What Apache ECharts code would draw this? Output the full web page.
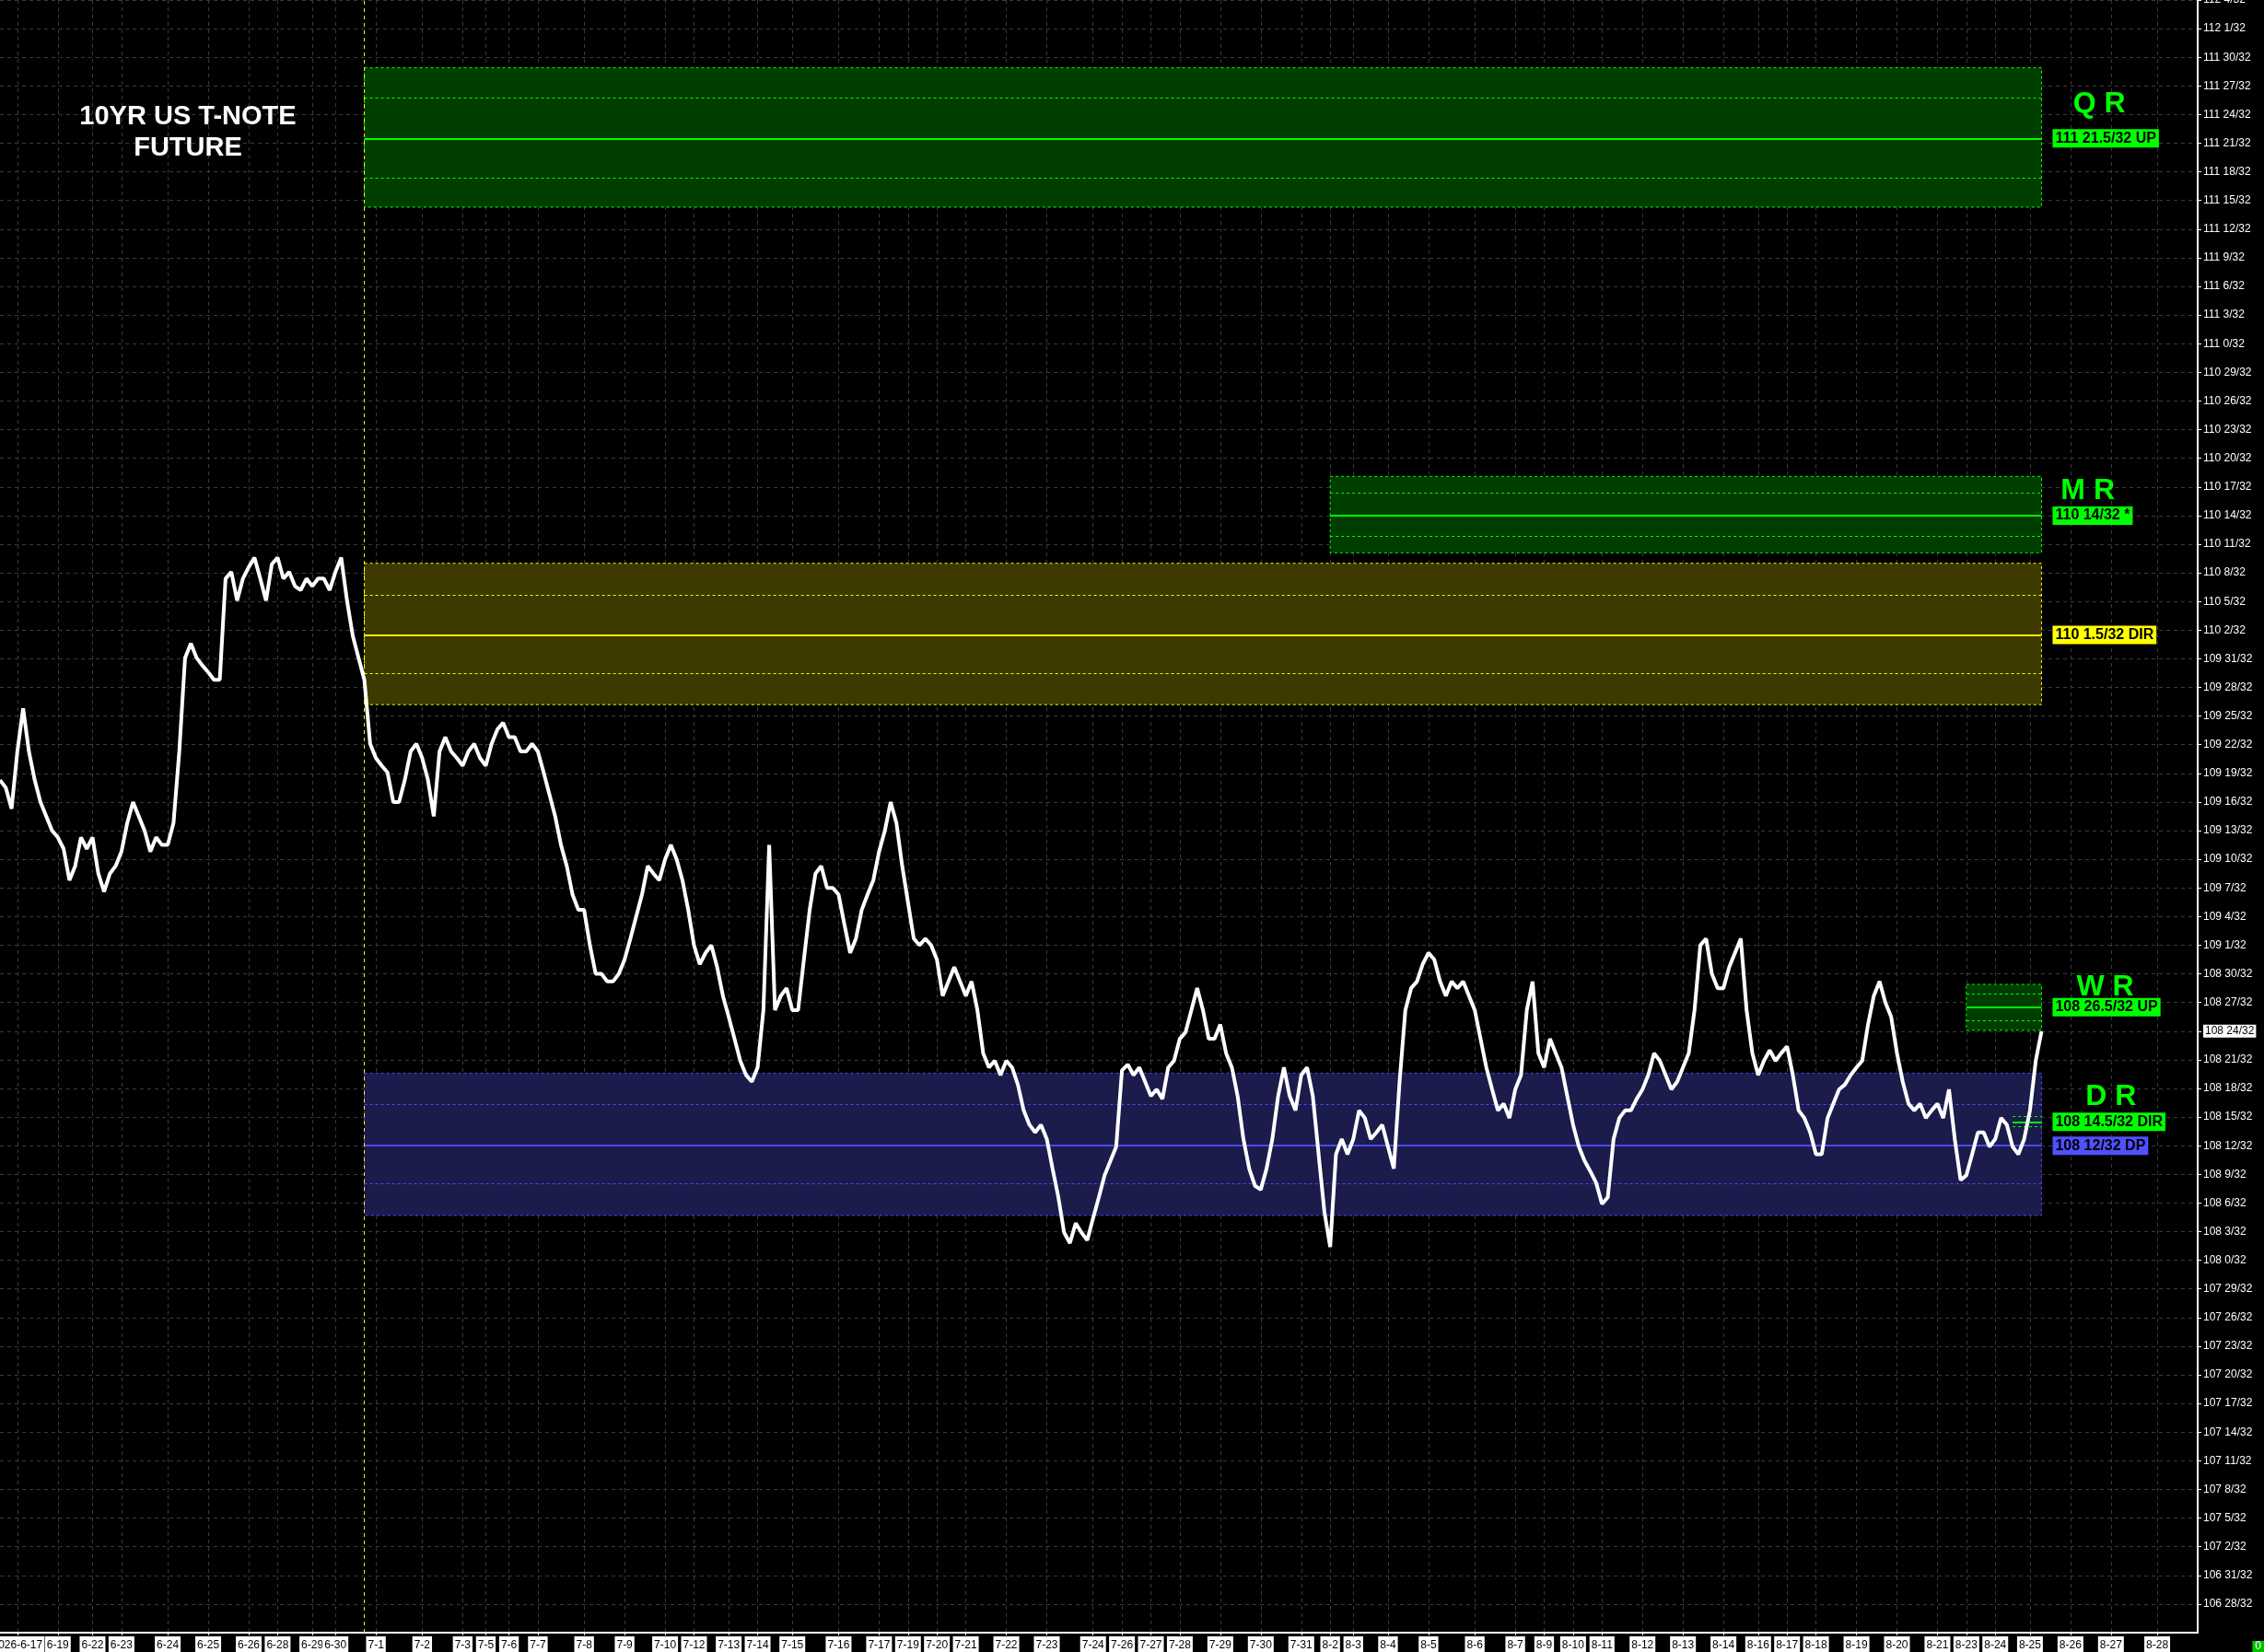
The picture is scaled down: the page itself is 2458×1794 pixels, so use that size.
<!DOCTYPE html>
<html><head><meta charset="utf-8">
<script src="https://cdn.jsdelivr.net/npm/echarts/dist/echarts.min.js"></script>
<style>html,body{margin:0;padding:0;background:#000;}#c{width:2458px;height:1794px;}</style>
</head><body><div id="c"></div>
<script>
// ---------------- DATA ----------------
// trading sessions (label shown at first slot of each session) and their length in slots
const dayLabels = ['', '2026-6-17', '6-19', '6-22', '6-23', '6-24', '6-25', '6-26', '6-28', '6-29', '6-30',
  '7-1', '7-2', '7-3', '7-5', '7-6', '7-7', '7-8', '7-9', '7-10', '7-12', '7-13', '7-14', '7-15', '7-16', '7-17',
  '7-19', '7-20', '7-21', '7-22', '7-23', '7-24', '7-26', '7-27', '7-28', '7-29', '7-30', '7-31',
  '8-2', '8-3', '8-4', '8-5', '8-6', '8-7', '8-9', '8-10', '8-11', '8-12', '8-13', '8-14', '8-16', '8-17',
  '8-18', '8-19', '8-20', '8-21', '8-23', '8-24', '8-25', '8-26', '8-27', '8-28'];
const dayLengths = [3, 7, 6, 5, 8, 7, 7, 5, 6, 4, 7,
  8, 7, 4, 4, 5, 8, 7, 7, 5, 6, 5, 6, 8, 7, 5, 5, 5, 7, 7, 8, 5, 5, 5, 7, 7, 7, 5,
  4, 6, 7, 8, 7, 5, 5, 5, 7, 7, 7, 6, 5, 5, 7, 7, 7, 5, 5, 6, 7, 7, 8, 8];

// price in 32nds of a point (e.g. 3480 = 108 24/32), one value per slot
const price32 = [
3506.3,3505.5,3503.3,3509.3,3513.8,3509.3,3506.3,3504.0,3502.5,3501.0,
3500.3,3499.1,3495.8,3497.3,3500.3,3499.1,3500.3,3496.5,3494.6,3496.5,
3497.3,3498.8,3501.8,3504.0,3502.5,3501.0,3498.8,3500.3,3499.5,3499.5,
3501.8,3509.3,3519.1,3520.6,3519.1,3518.3,3517.6,3516.8,3516.8,3527.4,
3528.1,3525.1,3527.4,3528.6,3529.6,3527.4,3525.1,3528.9,3529.6,3527.4,
3528.1,3526.6,3526.2,3527.4,3526.6,3527.4,3527.4,3526.2,3528.1,3529.6,
3525.1,3521.4,3519.1,3516.8,3510.1,3508.6,3507.8,3507.1,3504.0,3504.0,
3506.3,3509.3,3510.1,3508.6,3506.3,3502.5,3509.3,3510.8,3509.3,3508.6,
3507.8,3509.3,3510.1,3508.6,3507.8,3510.1,3511.6,3512.3,3510.8,3510.8,
3509.3,3509.3,3510.1,3509.3,3507.1,3504.8,3502.5,3499.5,3497.3,3494.3,
3492.7,3492.7,3489.0,3486.0,3486.0,3485.2,3485.2,3486.0,3487.5,3489.7,
3492.0,3494.3,3497.3,3496.5,3495.8,3498.0,3499.5,3498.0,3495.8,3492.7,
3489.0,3487.0,3488.2,3489.0,3486.7,3483.7,3481.5,3479.2,3476.9,3475.4,
3474.7,3476.2,3482.2,3499.5,3482.2,3483.7,3484.5,3482.2,3482.2,3487.5,
3492.7,3496.5,3497.3,3495.0,3495.0,3494.3,3491.2,3488.2,3489.7,3492.7,
3494.3,3495.8,3498.8,3501.0,3504.0,3501.8,3497.3,3493.5,3489.7,3489.0,
3489.7,3489.0,3487.5,3483.7,3485.2,3486.7,3485.2,3483.7,3485.2,3482.2,
3477.7,3476.2,3476.9,3475.4,3476.9,3476.2,3474.4,3471.7,3470.2,3469.4,
3470.2,3468.7,3465.6,3462.6,3458.9,3457.8,3459.9,3458.9,3458.1,3460.4,
3462.6,3464.9,3466.4,3467.9,3475.9,3476.5,3475.4,3476.2,3474.7,3473.2,
3473.9,3472.9,3476.2,3476.9,3479.2,3479.9,3482.2,3484.5,3482.2,3479.2,
3479.2,3480.7,3477.7,3476.2,3473.2,3468.7,3465.6,3463.8,3463.4,3465.6,
3468.7,3473.2,3476.2,3473.2,3471.7,3475.4,3476.2,3473.2,3467.1,3461.1,
3457.4,3467.1,3468.7,3467.1,3468.7,3471.7,3470.9,3468.7,3469.4,3470.2,
3467.9,3465.6,3474.7,3482.2,3484.5,3485.2,3487.0,3488.2,3487.5,3485.2,
3483.7,3485.2,3484.5,3485.2,3483.7,3482.2,3479.2,3476.2,3473.9,3471.7,
3472.4,3470.9,3473.9,3475.4,3482.2,3485.2,3477.7,3476.2,3479.2,3477.7,
3476.2,3473.2,3470.2,3467.9,3466.4,3465.3,3464.1,3461.9,3462.6,3468.7,
3470.9,3471.7,3471.7,3472.9,3473.9,3475.4,3477.7,3476.9,3475.4,3473.9,
3474.7,3476.2,3477.7,3482.2,3489.0,3489.7,3486.0,3484.5,3484.5,3486.7,
3488.2,3489.7,3482.2,3477.7,3475.4,3476.9,3478.0,3476.9,3477.7,3478.4,
3475.4,3471.7,3470.9,3469.4,3467.1,3467.1,3470.9,3472.4,3473.9,3474.4,
3475.4,3476.2,3476.9,3480.7,3483.7,3485.2,3483.0,3481.5,3477.7,3474.7,
3472.4,3471.7,3472.4,3470.9,3471.7,3472.4,3470.9,3473.9,3468.7,3464.4,
3464.9,3467.1,3469.4,3469.4,3467.9,3468.7,3470.9,3470.2,3467.9,3467.1,
3468.7,3471.7,3476.9,3480.0];

// y axis range / ticks (in 32nds)
const yMin = 3417, yMax = 3588, yStep = 3;

// levels (in 32nds)
const levelTitles = ['Q R', 'M R', '', 'W R', 'D R', ''];
const levelTags = ['UP', '*', 'DIR', 'UP', 'DIR', 'DP'];
const levelPrices = [3573.5, 3534, 3521.5, 3482.5, 3470.5, 3468];
const zoneTop = [3580.9, 3538.1, 3529.0, 3484.9, 3471.6, 3475.6];
const zoneInnerTop = [3577.8, 3536.4, 3525.7, 3483.9, 3471.1, 3472.3];
const zoneInnerBottom = [3569.4, 3531.8, 3517.5, 3481.1, 3470.0, 3464.0];
const zoneBottom = [3566.3, 3530.1, 3514.2, 3480.1, 3469.5, 3460.7];
const zoneStartSlot = [63, 230, 63, 340, 348, 63];
const yearStartSlot = 63;

// ---------------- BUILD ----------------
const slotNames = [];
dayLabels.forEach((d, k) => { for (let j = 0; j < dayLengths[k]; j++) slotNames.push(d + '#' + j); });
const lastSlot = slotNames.length - 1;
const dataEnd = price32.length - 1;
const isDayStart = (i, v) => /#0$/.test(v) && v.charAt(0) !== '#';
const fmt32 = v => { const w = Math.floor(v / 32); return w + ' ' + (+(v - w * 32).toFixed(2)) + '/32'; };

const GREEN = '#00ff00';
const SANS = 'Liberation Sans, Arial, sans-serif';
const styles = [
  { fill: '#003e00', line: GREEN, tag: GREEN },
  { fill: '#003e00', line: GREEN, tag: GREEN },
  { fill: '#3d3900', line: '#ffff00', tag: '#ffff00' },
  { fill: '#003e00', line: GREEN, tag: GREEN },
  { fill: '#0f3f38', line: GREEN, tag: GREEN },
  { fill: '#1b1b4c', line: '#4a4aff', tag: '#5050ff' }
];
const titleSlot = [363, 361, 0, 364, 365, 0];
const titleLift = [3.6, 2.6, 0, 2.05, 2.6, 0];

const areaData = [], lineData = [], pointData = [];
levelPrices.forEach((p, k) => {
  const s = zoneStartSlot[k], e = dataEnd, st = styles[k];
  areaData.push([{ coord: [s, zoneTop[k]], itemStyle: { color: st.fill, borderColor: st.line, borderWidth: 1, borderType: [3, 3] } },
                 { coord: [e, zoneBottom[k]] }]);
  [zoneInnerTop[k], zoneInnerBottom[k]].forEach(v => lineData.push([
    { coord: [s, v], lineStyle: { color: st.line, width: 1, type: [3, 3] }, label: { show: false } },
    { coord: [e, v] }]));
  lineData.push([
    { coord: [s, p], lineStyle: { color: st.line, width: 2, type: 'solid' },
      label: { show: true, position: 'end', distance: 12, formatter: fmt32(p) + ' ' + levelTags[k],
               backgroundColor: st.tag, color: '#000', fontWeight: 'bold', fontSize: 16, lineHeight: 18,
               padding: [1, 3], fontFamily: SANS } },
    { coord: [e, p] }]);
  if (levelTitles[k]) pointData.push({ name: levelTitles[k], coord: [titleSlot[k], p + titleLift[k]] });
});
lineData.push({ xAxis: yearStartSlot, lineStyle: { color: '#ffff00', width: 1, type: [4, 4] }, label: { show: false } });

const lastPrice = price32[dataEnd];

const option = {
  backgroundColor: '#000',
  animation: false,
  title: [
    { text: '10YR US T-NOTE\nFUTURE', left: 204, top: 110, textAlign: 'center', padding: 0,
      textStyle: { color: '#fff', fontSize: 29, fontWeight: 'bold', lineHeight: 34, fontFamily: SANS } },
    { text: '0', right: 0, bottom: 0, padding: [0, 3], backgroundColor: '#00c000',
      textStyle: { color: '#fff', fontSize: 12, fontWeight: 'normal', fontFamily: SANS } }
  ],
  grid: { left: 0, right: 72, top: 0, bottom: 21, containLabel: false, outerBoundsMode: 'none' },
  xAxis: {
    type: 'category', data: slotNames, boundaryGap: false,
    axisLine: { show: true, lineStyle: { color: '#fff', width: 2 } },
    axisTick: { show: true, interval: isDayStart, length: 3, lineStyle: { color: '#fff' } },
    axisLabel: { interval: isDayStart, formatter: v => v.split('#')[0], color: '#000', backgroundColor: '#fff',
                 padding: [2, 2, 1, 2], fontSize: 12, lineHeight: 15, margin: 4, hideOverlap: false,
                 showMinLabel: true, showMaxLabel: true, fontFamily: SANS },
    splitLine: { show: true, interval: isDayStart, lineStyle: { color: '#3a3a3a', width: 1, type: [4, 4] } }
  },
  yAxis: {
    type: 'value', position: 'right', min: yMin, max: yMax, interval: yStep, scale: true,
    axisLine: { show: true, lineStyle: { color: '#fff', width: 2 } },
    axisTick: { show: true, length: 4, lineStyle: { color: '#fff' } },
    axisLabel: { color: '#fff', fontSize: 12, margin: 6, formatter: fmt32, showMinLabel: false, hideOverlap: false,
                 fontFamily: SANS },
    splitLine: { show: true, lineStyle: { color: '#3a3a3a', width: 1, type: [4, 4] } }
  },
  series: [
    { type: 'line', name: 'levels', data: [], z: 1, silent: true, clip: false,
      markArea: { silent: true, data: areaData, label: { show: false } },
      markLine: { silent: true, symbol: ['none', 'none'], data: lineData },
      markPoint: { silent: true, symbol: 'circle', symbolSize: 0, data: pointData,
        label: { show: true, position: 'inside', formatter: '{b}', color: GREEN, fontSize: 32, fontWeight: 'bold',
                 fontFamily: SANS } } },
    { type: 'line', name: 'price', data: price32, z: 5, showSymbol: false, clip: false, silent: true,
      lineStyle: { color: '#fff', width: 4 },
      markLine: { silent: true, symbol: ['none', 'none'],
        data: [[{ coord: [dataEnd, lastPrice], lineStyle: { color: 'rgba(0,0,0,0)', width: 0 },
                  label: { show: true, position: 'end', distance: 6, formatter: fmt32(lastPrice), opacity: 1,
                           backgroundColor: '#fff', color: '#000', fontSize: 12, padding: [1, 2], fontFamily: SANS } },
                { coord: [lastSlot, lastPrice] }]] } }
  ]
};
const chart = echarts.init(document.getElementById('c'));
chart.setOption(option);
</script></body></html>
